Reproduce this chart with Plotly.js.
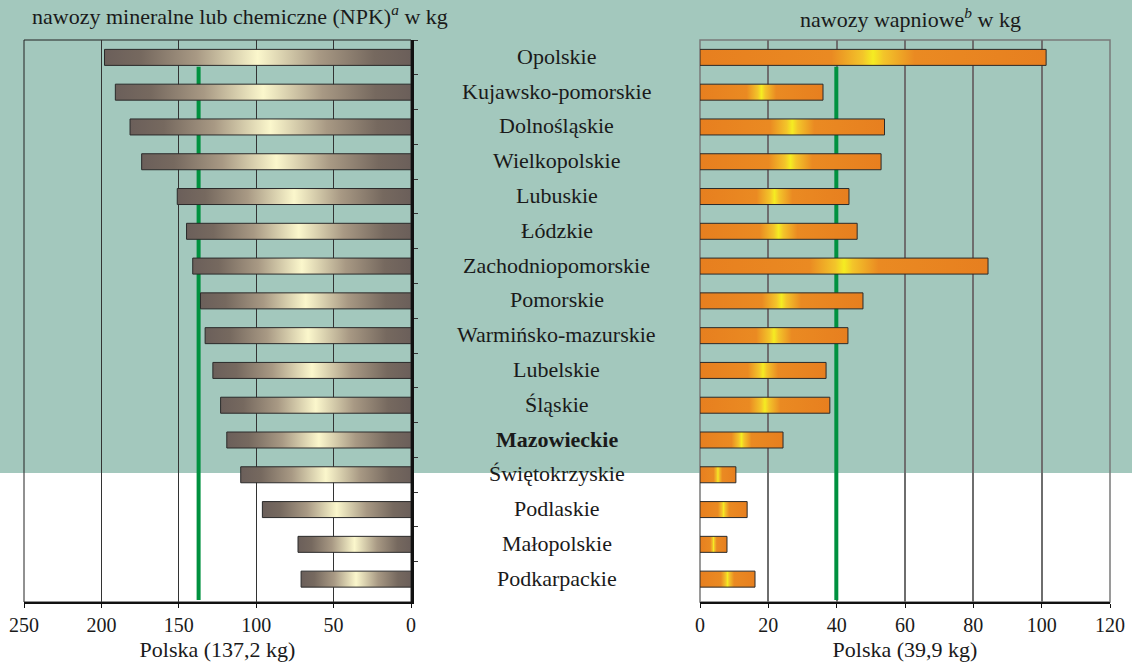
<!DOCTYPE html>
<html>
<head>
<meta charset="utf-8">
<script src="https://cdn.plot.ly/plotly-3.0.1.min.js"></script>
<style>
html,body{margin:0;padding:0;background:#fff;}
#chart{width:1132px;height:666px;}
</style>
</head>
<body>
<div id="chart"></div>
<script>
// ---- data ----
var regions = ["Opolskie","Kujawsko-pomorskie","Dolnośląskie","Wielkopolskie","Lubuskie","Łódzkie","Zachodniopomorskie","Pomorskie","Warmińsko-mazurskie","Lubelskie","Śląskie","Mazowieckie","Świętokrzyskie","Podlaskie","Małopolskie","Podkarpackie"];
var npk = [198, 191, 181.5, 174, 151, 145, 141, 136, 133, 128, 123, 119, 110, 96, 73, 71];
var lime = [101.3, 36, 54, 53, 43.6, 46, 84.3, 47.7, 43.3, 36.9, 38, 24.3, 10.5, 13.8, 7.9, 16.1];
var npkPoland = 137.2;
var limePoland = 39.9;
var highlighted = "Mazowieckie";
var leftTicks = [250, 200, 150, 100, 50, 0];
var rightTicks = [0, 20, 40, 60, 80, 100, 120];

var FAM = "Liberation Serif, serif";
var txt = "#1a1a1a";
var fmt = function(v){ return String(v).replace('.', ','); };

var traces = [
  {type:'bar', orientation:'h', y:regions, x:npk, xaxis:'x', yaxis:'y',
   marker:{color:'#a89a8a', line:{color:'#2a2a2a', width:1}}, hoverinfo:'x+y'},
  {type:'bar', orientation:'h', y:regions, x:lime, xaxis:'x2', yaxis:'y2',
   marker:{color:'#e8801e', line:{color:'#2a2a2a', width:1}}, hoverinfo:'x+y'}
];

var annotations = regions.map(function(r){
  return {xref:'paper', yref:'y', x:0.492, y:r, showarrow:false, xanchor:'center', yanchor:'middle', yshift:1,
          text: r === highlighted ? '<b>' + r + '</b>' : r, font:{family:FAM, size:22, color:txt}};
});
annotations.push({xref:'paper', yref:'paper', x:0.212, y:1.045, showarrow:false, xanchor:'center', yanchor:'middle',
  text:'nawozy mineralne lub chemiczne (NPK)<sup><i>a</i></sup> w kg', font:{family:FAM, size:22, color:txt}});
annotations.push({xref:'paper', yref:'paper', x:0.804, y:1.04, showarrow:false, xanchor:'center', yanchor:'middle',
  text:'nawozy wapniowe<sup><i>b</i></sup> w kg', font:{family:FAM, size:22, color:txt}});

var shapes = [
  {type:'rect', xref:'paper', yref:'paper', x0:-0.1, x1:1.1, y0:-0.3, y1:0.2295, layer:'below',
   fillcolor:'#ffffff', line:{width:0}},
  {type:'rect', xref:'x domain', yref:'y domain', x0:0, x1:1, y0:0, y1:1, layer:'below',
   fillcolor:'rgba(0,0,0,0)', line:{color:'#222', width:1}},
  {type:'rect', xref:'x2 domain', yref:'y2 domain', x0:0, x1:1, y0:0, y1:1, layer:'below',
   fillcolor:'rgba(0,0,0,0)', line:{color:'#7a7a7a', width:1.5}},
  {type:'line', xref:'x', yref:'y', x0:npkPoland, x1:npkPoland, y0:0.27, y1:15.6, layer:'between',
   line:{color:'#00913f', width:4}},
  {type:'line', xref:'x2', yref:'y2', x0:limePoland, x1:limePoland, y0:0.27, y1:15.6, layer:'between',
   line:{color:'#00913f', width:4}}
];

var tickFont = {family:FAM, size:20, color:txt};
var titleFont = {family:FAM, size:22, color:txt};

var layout = {
  width:1132, height:666,
  margin:{l:0, r:0, t:40, b:64},
  paper_bgcolor:'#a3c8bd',
  plot_bgcolor:'rgba(0,0,0,0)',
  showlegend:false,
  bargap:0.54,
  font:{family:FAM, size:20, color:txt},
  xaxis:{domain:[24/1132, 411/1132], range:[250, 0], tickvals:leftTicks, ticktext:leftTicks.map(String),
         showgrid:true, gridcolor:'#333', gridwidth:1, zeroline:false,
         showline:true, linecolor:'#111', linewidth:1.5, ticks:'outside', ticklen:4, tickcolor:'#111',
         tickfont:tickFont, anchor:'y',
         title:{text:'Polska (' + fmt(npkPoland) + ' kg)', font:titleFont, standoff:7}},
  yaxis:{domain:[0,1], autorange:'reversed', type:'category', side:'right', anchor:'x',
         showticklabels:false, showgrid:false, zeroline:false,
         showline:true, linecolor:'#111', linewidth:2.5, ticks:'outside', tickson:'boundaries',
         ticklen:4, tickcolor:'#333', tickwidth:1},
  xaxis2:{domain:[700/1132, 1110/1132], range:[0, 120], tickvals:rightTicks, ticktext:rightTicks.map(String),
          showgrid:true, gridcolor:'#6e6e6e', gridwidth:1.5, zeroline:false,
          showline:true, linecolor:'#111', linewidth:1.5, ticks:'outside', ticklen:4, tickcolor:'#111',
          tickfont:tickFont, anchor:'y2',
          title:{text:'Polska (' + fmt(limePoland) + ' kg)', font:titleFont, standoff:7}},
  yaxis2:{domain:[0,1], autorange:'reversed', type:'category', anchor:'x2',
          showticklabels:false, showgrid:false, zeroline:false, showline:false, ticks:''},
  annotations:annotations,
  shapes:shapes
};

Plotly.newPlot('chart', traces, layout, {displayModeBar:false}).then(function(gd){
  var svg = gd.querySelector('svg.main-svg');
  var ns = 'http://www.w3.org/2000/svg';
  var defs = svg.querySelector('defs') || svg.insertBefore(document.createElementNS(ns,'defs'), svg.firstChild);
  function grad(id, stops){
    var g = document.createElementNS(ns, 'linearGradient');
    g.setAttribute('id', id);
    g.setAttribute('x1','0'); g.setAttribute('x2','1'); g.setAttribute('y1','0'); g.setAttribute('y2','0');
    stops.forEach(function(s){
      var st = document.createElementNS(ns, 'stop');
      st.setAttribute('offset', s[0]); st.setAttribute('stop-color', s[1]);
      g.appendChild(st);
    });
    defs.appendChild(g);
  }
  grad('gradNPK', [[0,'#6b5f5a'],[0.12,'#76695f'],[0.3,'#a89984'],[0.5,'#fbf7cc'],[0.7,'#a89984'],[0.88,'#76695f'],[1,'#6b5f5a']]);
  grad('gradLime', [[0,'#e77f1f'],[0.38,'#ea8a22'],[0.47,'#f3c52a'],[0.5,'#f5ec22'],[0.53,'#f3c52a'],[0.62,'#ea8a22'],[1,'#e77f1f']]);
  var tr = gd.querySelectorAll('.barlayer .trace');
  var ids = ['gradNPK','gradLime'];
  tr.forEach(function(t, i){
    t.querySelectorAll('path').forEach(function(p){ p.style.fill = 'url(#' + ids[i] + ')'; });
  });
});
</script>
</body>
</html>
